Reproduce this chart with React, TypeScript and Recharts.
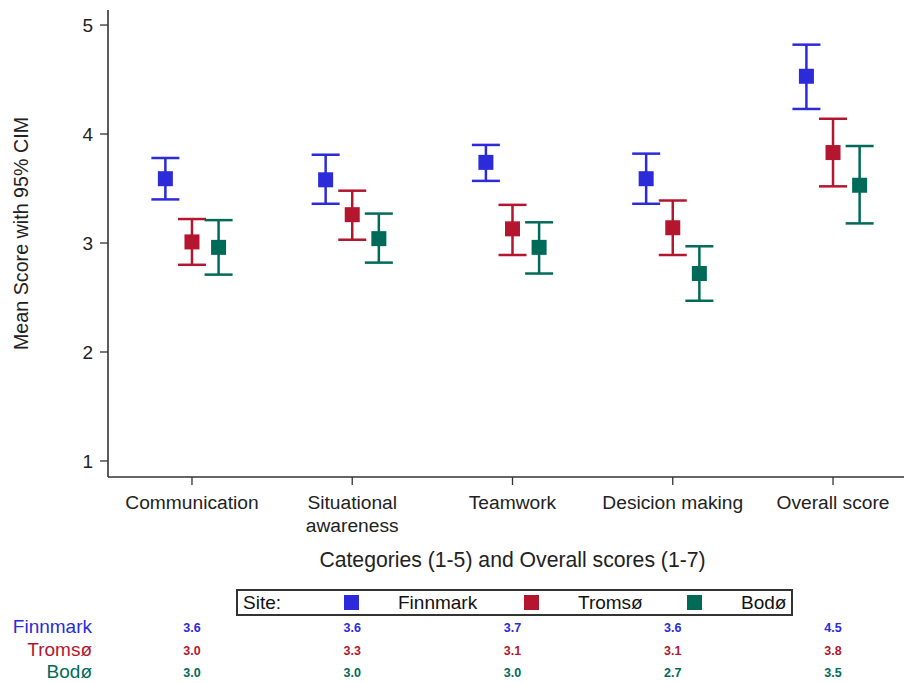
import React from 'react';
import { ScatterChart, Scatter, XAxis, YAxis, ErrorBar, Legend } from 'recharts';

const categories = ['Communication', 'Situational\nawareness', 'Teamwork', 'Desicion making', 'Overall score'];
const categoryTicks = [1, 2, 3, 4, 5];
const scoreTicks = [1, 2, 3, 4, 5];
const siteNames = ['Finnmark', 'Tromsø', 'Bodø'];

const finnmarkMean = [3.59, 3.58, 3.74, 3.59, 4.53];
const finnmarkLow = [3.4, 3.36, 3.57, 3.36, 4.23];
const finnmarkHigh = [3.78, 3.81, 3.9, 3.82, 4.82];

const tromsoMean = [3.01, 3.26, 3.13, 3.14, 3.83];
const tromsoLow = [2.8, 3.03, 2.89, 2.89, 3.52];
const tromsoHigh = [3.22, 3.48, 3.35, 3.39, 4.14];

const bodoMean = [2.96, 3.04, 2.96, 2.72, 3.53];
const bodoLow = [2.71, 2.82, 2.72, 2.47, 3.18];
const bodoHigh = [3.21, 3.27, 3.19, 2.97, 3.89];

const finnmarkLabels = ['3.6', '3.6', '3.7', '3.6', '4.5'];
const tromsoLabels = ['3.0', '3.3', '3.1', '3.1', '3.8'];
const bodoLabels = ['3.0', '3.0', '3.0', '2.7', '3.5'];

const BLUE = '#2b2bd9';
const RED = '#b3162e';
const GREEN = '#006a59';
const FONT = '"Liberation Sans", Arial, sans-serif';
const AXIS = '#333';
const X_DOMAIN: [number, number] = [0.476, 5.524];

// points sit left / centre / right of each category tick
const build = (mean: number[], low: number[], high: number[], shift: number) =>
  mean.map((m, i) => ({ x: i + 1 + shift, y: m, err: [m - low[i], high[i] - m] }));

const finnmarkData = build(finnmarkMean, finnmarkLow, finnmarkHigh, -0.166);
const tromsoData = build(tromsoMean, tromsoLow, tromsoHigh, 0);
const bodoData = build(bodoMean, bodoLow, bodoHigh, 0.166);

// anchor points so the table axes get a domain
const rowAnchor = categoryTicks.map((c) => ({ x: c, y: 3 }));

const square = (color: string) => (p: any) => (
  <rect x={p.cx - 7.5} y={p.cy - 7.5} width={15} height={15} fill={color} />
);
const nothing = () => <g />;

function CategoryTick(props: any) {
  const { x, y, payload } = props;
  const lines = categories[Math.round(payload.value) - 1].split('\n');
  return (
    <text x={x} y={y} textAnchor="middle" fontSize={19.2} fontFamily={FONT} fill="#222">
      {lines.map((l, i) => (
        <tspan key={i} x={x} dy={i === 0 ? 21.5 : 23}>
          {l}
        </tspan>
      ))}
    </text>
  );
}

const rowTick = (labels: string[], color: string) => (props: any) => {
  const { x, y, payload } = props;
  return (
    <text x={x} y={y + 16.5} textAnchor="middle" fontSize={12.5} fontWeight="bold" fontFamily={FONT} fill={color}>
      {labels[Math.round(payload.value) - 1]}
    </text>
  );
};

const rowLabel = (name: string, color: string) => (props: any) => {
  const vb = props.viewBox || { x: 108, y: 0 };
  return (
    <text x={vb.x - 16} y={vb.y + 17.5} textAnchor="end" fontSize={19} fontFamily={FONT} fill={color}>
      {name}
    </text>
  );
};

const xTitle = (props: any) => {
  const vb = props.viewBox || { x: 108, y: 477, width: 809 };
  return (
    <text x={vb.x + vb.width / 2} y={vb.y + 90} textAnchor="middle" fontSize={21.2} fontFamily={FONT} fill="#222">
      Categories (1-5) and Overall scores (1-7)
    </text>
  );
};

const yTitle = (props: any) => {
  const vb = props.viewBox || { x: 0, y: 10, height: 467 };
  const cx = vb.x + 21;
  const cy = vb.y + vb.height / 2 - 10;
  return (
    <text
      x={cx}
      y={cy}
      transform={`rotate(-90 ${cx} ${cy})`}
      textAnchor="middle"
      dominantBaseline="central"
      fontSize={19.7}
      fontFamily={FONT}
      fill="#222"
    >
      Mean Score with 95% CIM
    </text>
  );
};

const itemOffsets = [106, 286, 449];

const renderLegend = (props: any) => {
  const all = props.payload || [];
  const items = siteNames
    .map((n) => all.find((it: any) => it.value === n))
    .filter(Boolean);
  return (
    <div
      style={{
        position: 'relative',
        width: 553,
        height: 23,
        border: `2px solid ${AXIS}`,
        fontFamily: FONT,
        fontSize: 19,
        color: '#111',
        background: '#fff',
      }}
    >
      <span style={{ position: 'absolute', left: 5, top: 1 }}>Site:</span>
      {items.map((it: any, i: number) => (
        <React.Fragment key={it.value}>
          <span
            style={{
              position: 'absolute',
              left: itemOffsets[i],
              top: 4,
              width: 15,
              height: 15,
              background: it.color,
            }}
          />
          <span style={{ position: 'absolute', left: itemOffsets[i] + 54, top: 1 }}>{it.value}</span>
        </React.Fragment>
      ))}
    </div>
  );
};

export default function App() {
  return (
    <div style={{ position: 'absolute', left: 0, top: 0, width: 904, height: 683, overflow: 'hidden', background: '#fff' }}>
      <ScatterChart width={940} height={683} margin={{ top: 10, right: 23, bottom: 0, left: 0 }}>
        <XAxis
          xAxisId="a_main"
          type="number"
          dataKey="x"
          domain={X_DOMAIN}
          ticks={categoryTicks}
          interval={0}
          allowDataOverflow
          height={138.5}
          tickSize={8}
          tickMargin={2}
          tick={<CategoryTick />}
          axisLine={{ stroke: AXIS, strokeWidth: 1.6 }}
          tickLine={{ stroke: AXIS, strokeWidth: 1.3 }}
          label={{ content: xTitle }}
        />
        <XAxis
          xAxisId="b_finnmark"
          type="number"
          dataKey="x"
          domain={X_DOMAIN}
          ticks={categoryTicks}
          interval={0}
          allowDataOverflow
          height={22.5}
          tickSize={0}
          tickMargin={0}
          axisLine={false}
          tickLine={false}
          tick={rowTick(finnmarkLabels, BLUE)}
          label={{ content: rowLabel('Finnmark', BLUE) }}
        />
        <XAxis
          xAxisId="c_tromso"
          type="number"
          dataKey="x"
          domain={X_DOMAIN}
          ticks={categoryTicks}
          interval={0}
          allowDataOverflow
          height={22.5}
          tickSize={0}
          tickMargin={0}
          axisLine={false}
          tickLine={false}
          tick={rowTick(tromsoLabels, RED)}
          label={{ content: rowLabel('Tromsø', RED) }}
        />
        <XAxis
          xAxisId="d_bodo"
          type="number"
          dataKey="x"
          domain={X_DOMAIN}
          ticks={categoryTicks}
          interval={0}
          allowDataOverflow
          height={22.5}
          tickSize={0}
          tickMargin={0}
          axisLine={false}
          tickLine={false}
          tick={rowTick(bodoLabels, GREEN)}
          label={{ content: rowLabel('Bodø', GREEN) }}
        />
        <XAxis
          xAxisId="e_top"
          orientation="top"
          type="number"
          dataKey="x"
          domain={X_DOMAIN}
          allowDataOverflow
          height={0}
          tick={false}
          tickLine={false}
          axisLine={{ stroke: AXIS, strokeWidth: 1.6 }}
        />
        <YAxis
          type="number"
          dataKey="y"
          domain={[0.853, 5.138]}
          ticks={scoreTicks}
          interval={0}
          allowDataOverflow
          width={108}
          tickSize={8}
          tickMargin={7}
          tick={{ fontSize: 19, fontFamily: FONT, fill: '#222' }}
          axisLine={{ stroke: AXIS, strokeWidth: 1.6 }}
          tickLine={{ stroke: AXIS, strokeWidth: 1.3 }}
          label={{ content: yTitle }}
        />
        <Legend
          verticalAlign="middle"
          align="center"
          layout="horizontal"
          content={renderLegend}
          wrapperStyle={{ left: 236, top: 589, width: 557, height: 27 }}
        />
        <Scatter xAxisId="b_finnmark" data={rowAnchor} shape={nothing} legendType="none" isAnimationActive={false} />
        <Scatter xAxisId="c_tromso" data={rowAnchor} shape={nothing} legendType="none" isAnimationActive={false} />
        <Scatter xAxisId="d_bodo" data={rowAnchor} shape={nothing} legendType="none" isAnimationActive={false} />
        <Scatter xAxisId="e_top" data={rowAnchor} shape={nothing} legendType="none" isAnimationActive={false} />
        <Scatter xAxisId="a_main" name="Finnmark" data={finnmarkData} fill={BLUE} shape={square(BLUE)} isAnimationActive={false}>
          <ErrorBar dataKey="err" direction="y" width={14} strokeWidth={2.5} stroke={BLUE} />
        </Scatter>
        <Scatter xAxisId="a_main" name="Tromsø" data={tromsoData} fill={RED} shape={square(RED)} isAnimationActive={false}>
          <ErrorBar dataKey="err" direction="y" width={14} strokeWidth={2.5} stroke={RED} />
        </Scatter>
        <Scatter xAxisId="a_main" name="Bodø" data={bodoData} fill={GREEN} shape={square(GREEN)} isAnimationActive={false}>
          <ErrorBar dataKey="err" direction="y" width={14} strokeWidth={2.5} stroke={GREEN} />
        </Scatter>
      </ScatterChart>
    </div>
  );
}
